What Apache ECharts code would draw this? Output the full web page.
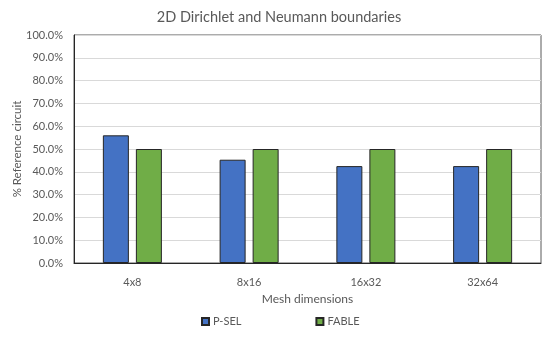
<!DOCTYPE html>
<html>
<head>
<meta charset="utf-8">
<script src="https://cdn.jsdelivr.net/npm/echarts@6/dist/echarts.min.js"></script>
<style>
  html, body { margin: 0; padding: 0; background: #fff; }
  #chart { width: 548px; height: 341px; }
</style>
</head>
<body>
<div id="chart"></div>
<script>
// data
var categories = ['4x8', '8x16', '16x32', '32x64'];
var pselValues = [56.0, 45.3, 42.5, 42.5];
var fableValues = [50.0, 50.0, 50.0, 50.0];

var myChart = echarts.init(document.getElementById('chart'));
var font = 'Lato';

var option = {
  backgroundColor: '#fff',
  animation: false,
  title: {
    text: '2D Dirichlet and Neumann boundaries',
    left: 274,
    textAlign: 'center',
    top: 5,
    textStyle: { color: '#595959', fontSize: 14.5, fontWeight: 'normal', fontFamily: font }
  },
  legend: {
    data: ['P-SEL', 'FABLE'],
    left: 196,
    top: 311,
    itemWidth: 7,
    itemHeight: 7,
    itemGap: 74,
    icon: 'rect',
    textStyle: { color: '#595959', fontSize: 11, fontFamily: font, padding: [0, 0, 0, -1] }
  },
  grid: {
    left: 74, right: 7, top: 35, bottom: 78,
    outerBoundsMode: 'none',
    show: true,
    borderColor: '#595959',
    borderWidth: 1
  },
  xAxis: {
    type: 'category',
    data: categories,
    name: 'Mesh dimensions',
    nameLocation: 'middle',
    nameGap: 30,
    nameMoveOverlap: false,
    nameTextStyle: { color: '#595959', fontSize: 12, fontFamily: font },
    axisLine: { lineStyle: { color: '#262626', width: 1 } },
    axisTick: { show: false },
    axisLabel: { color: '#595959', fontSize: 11, fontFamily: font, margin: 14 }
  },
  yAxis: {
    type: 'value',
    min: 0,
    max: 100,
    interval: 10,
    name: '% Reference circuit',
    nameLocation: 'middle',
    nameGap: 51,
    nameMoveOverlap: false,
    nameTextStyle: { color: '#595959', fontSize: 11.5, fontFamily: font },
    axisLine: { show: true, lineStyle: { color: '#262626', width: 1 } },
    axisTick: { show: false },
    axisLabel: {
      color: '#595959', fontSize: 11, fontFamily: font, margin: 11,
      formatter: function (v) { return v.toFixed(1) + '%'; }
    },
    splitLine: { lineStyle: { color: '#d9d9d9', width: 1 } }
  },
  series: [{
    name: 'P-SEL',
    type: 'bar',
    barWidth: 26,
    barGap: '27%',
    itemStyle: { color: '#4472C4', borderColor: '#262626', borderWidth: 1 },
    data: pselValues
  }, {
    name: 'FABLE',
    type: 'bar',
    barWidth: 26,
    itemStyle: { color: '#70AD47', borderColor: '#262626', borderWidth: 1 },
    data: fableValues
  }]
};
myChart.setOption(option);
</script>
</body>
</html>
